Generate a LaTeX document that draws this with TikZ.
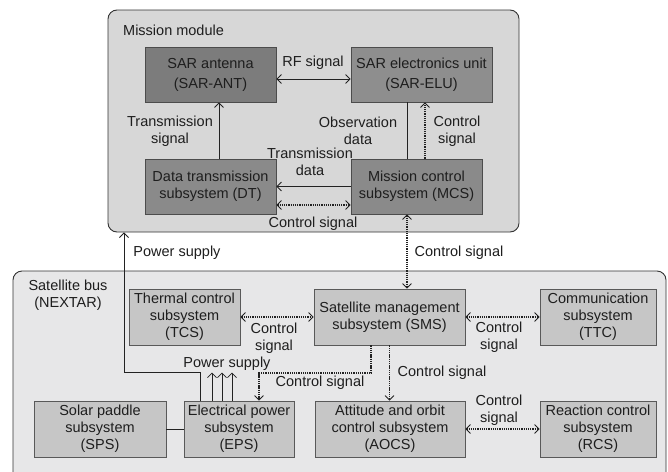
\documentclass[tikz,border=0pt]{standalone}
\usepackage{fontspec}
\setmainfont{Liberation Sans}
\usetikzlibrary{arrows.meta}
\definecolor{mmfill}{HTML}{D7D7D7}
\definecolor{busfill}{HTML}{E7E7E8}
\definecolor{antfill}{HTML}{7C7C7C}
\definecolor{elufill}{HTML}{8E8E8E}
\definecolor{mcsfill}{HTML}{8A8A8A}
\definecolor{subfill}{HTML}{C6C6C6}
\definecolor{txt}{HTML}{1E1E1E}
\definecolor{ln}{HTML}{222222}
\begin{document}
\begin{tikzpicture}[x=1pt,y=-1pt,
  font=\fontsize{14.5}{17}\selectfont,
  every node/.style={text=txt},
  >={Straight Barb[length=4.5pt,width=9pt,line width=0.8pt]},
  bigbox/.style={draw=black!80, line width=0.9pt, rounded corners=9pt, inner sep=0pt},
  mbox/.style={draw=black!70, line width=0.8pt, minimum height=55pt, align=center, inner sep=0pt, fill=#1},
  sbox/.style={draw=black!65, line width=0.8pt, minimum height=56pt, align=center, inner sep=0pt, fill=subfill},
  lbl/.style={inner sep=0pt, align=center},
  conn/.style={draw=ln, line width=0.9pt},
  dotc/.style={draw=ln, line width=1.7pt, dash pattern=on 1.3pt off 0.9pt},
]
\path[use as bounding box, clip] (0,0) rectangle (668,471);
\fill[white] (0,0) rectangle (668,471);

% containers
\node[bigbox, fill=mmfill, minimum width=411pt, minimum height=222pt] (mission) at (313.5,121) {};
\node[bigbox, fill=busfill, minimum width=653pt, minimum height=230pt] (bus) at (339.5,386) {};

\node[lbl, anchor=west] (mmlabel) at (123,30) {Mission module};
\node[lbl] (buslabel) at (68,295) {Satellite bus\\(NEXTAR)};

% mission module boxes
\node[mbox=antfill, minimum width=131pt, font=\fontsize{14.5}{20}\selectfont] (ant) at (210.5,74.5) {SAR antenna\\(SAR-ANT)};
\node[mbox=elufill, minimum width=141pt, font=\fontsize{14.5}{20}\selectfont] (elu) at (421.5,74.5) {SAR electronics unit\\(SAR-ELU)};
\node[mbox=mcsfill, minimum width=131pt] (dt) at (210.5,186.5) {Data transmission\\subsystem (DT)};
\node[mbox=mcsfill, minimum width=131pt] (mcs) at (416.5,186.5) {Mission control\\subsystem (MCS)};

% bus boxes
\node[sbox, minimum width=111pt] (tcs) at (184.5,317) {Thermal control\\subsystem\\(TCS)};
\node[sbox, minimum width=151pt] (sms) at (389.5,317) {Satellite management\\subsystem (SMS)};
\node[sbox, minimum width=116pt] (ttc) at (598,317) {Communication\\subsystem\\(TTC)};
\node[sbox, minimum width=132pt] (sps) at (100,429) {Solar paddle\\subsystem\\(SPS)};
\node[sbox, minimum width=110pt] (eps) at (239,429) {Electrical power\\subsystem\\(EPS)};
\node[sbox, minimum width=150pt] (aocs) at (390,429) {Attitude and orbit\\control subsystem\\(AOCS)};
\node[sbox, minimum width=116pt] (rcs) at (598,429) {Reaction control\\subsystem\\(RCS)};

% mission module connectors
\draw[conn,<->] ([yshift=-4.5pt]ant.east) -- ([yshift=-4.5pt]elu.west);
\node[lbl] (lrf) at (313,63) {RF signal};
\draw[conn,->] ([xshift=8.5pt]dt.north) -- ([xshift=8.5pt]dt.north |- ant.south);
\node[lbl] (ltx) at (170,131) {Transmission\\signal};
\draw[conn] ([xshift=-9.5pt]mcs.north) -- ([xshift=-9.5pt]mcs.north |- elu.south);
\node[lbl] (lobs) at (358,131) {Observation\\data};
\draw[dotc,->] ([xshift=8.5pt]mcs.north) -- ([xshift=8.5pt]mcs.north |- elu.south);
\node[lbl] (lcs1) at (457,131) {Control\\signal};
\draw[conn,->] (mcs.west) -- (dt.east);
\node[lbl] (ltd) at (310,161.5) {Transmission\\data};
\draw[dotc,<->] ([yshift=-18.5pt]dt.east) -- ([yshift=-18.5pt]mcs.west);
\node[lbl] (lcs2) at (313,224) {Control signal};

% mission <-> bus
\draw[dotc,<->] ([xshift=-9.5pt]mcs.south) -- ([xshift=-9.5pt]mcs.south |- sms.north);
\node[lbl] (lcs3) at (459,253) {Control signal};
\coordinate (pbend) at (124,372);
\draw[conn,->] ([xshift=-39pt]eps.north) |- (pbend) -- (pbend |- mission.south);
\node[lbl] (lps1) at (177,253) {Power supply};

% bus connectors
\draw[dotc,<->] (tcs.east) -- (sms.west);
\node[lbl] (lcs4) at (274,338) {Control\\signal};
\draw[dotc,<->] (sms.east) -- (ttc.west);
\node[lbl] (lcs5) at (499,337) {Control\\signal};
\draw[conn] (sps.east) -- (eps.west);
\foreach \dx in {-27,-17,-7}{
  \draw[conn,->] ([xshift=\dx pt]eps.north) -- ++(0,-28);
}
\node[lbl] (lps2) at (227,364) {Power supply};
\coordinate (cbend) at (371,373);
\draw[dotc,->] ([xshift=-18.5pt]sms.south) -- (cbend) -| ([xshift=20pt]eps.north);
\node[lbl] (lcs6) at (320,383) {Control signal};
\draw[dotc,->] (sms.south) -- (sms.south |- aocs.north);
\node[lbl] (lcs7) at (442,373) {Control signal};
\draw[dotc,<->] (aocs.east) -- (rcs.west);
\node[lbl] (lcs8) at (499,410) {Control\\signal};
\end{tikzpicture}
\end{document}
